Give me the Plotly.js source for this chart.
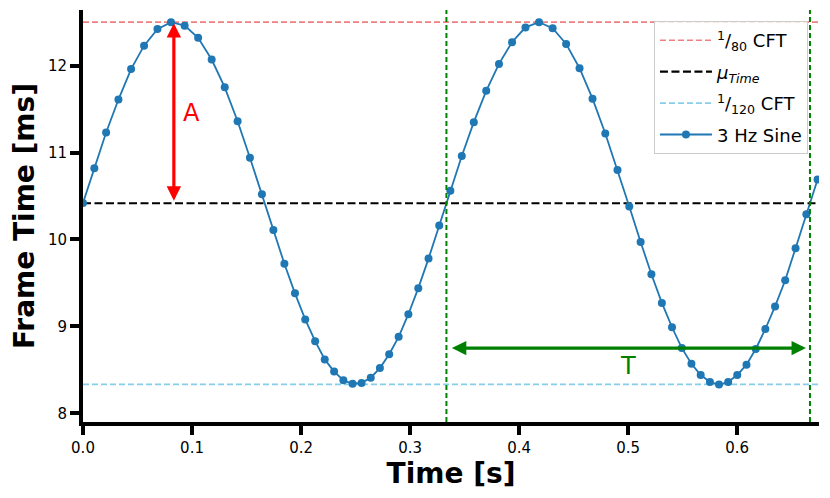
<!DOCTYPE html>
<html>
<head>
<meta charset="utf-8">
<script src="https://cdn.plot.ly/plotly-3.0.1.min.js"></script>
<style>html,body{margin:0;padding:0;background:#fff;}</style>
</head>
<body>
<div id="chart" style="width:830px;height:498px;"></div>
<script>
// Cumulative time of each frame [s]
const times = [
  0.0000,0.0104,0.0212,0.0325,0.0441,0.0560,0.0683,0.0807,0.0932,0.1056,
  0.1180,0.1300,0.1418,0.1531,0.1641,0.1746,0.1847,0.1944,0.2038,0.2129,
  0.2217,0.2303,0.2388,0.2472,0.2555,0.2639,0.2723,0.2808,0.2895,0.2984,
  0.3075,0.3169,0.3267,0.3369,0.3474,0.3584,0.3698,0.3815,0.3935,0.4058,
  0.4182,0.4307,0.4431,0.4554,0.4673,0.4790,0.4902,0.5010,0.5114,0.5213,
  0.5309,0.5402,0.5492,0.5580,0.5665,0.5750,0.5833,0.5917,0.6000,0.6085,
  0.6170,0.6258,0.6347,0.6440,0.6535,0.6634,0.6737
];
// Frame time of each frame [ms]
const frameTimes = [
  10.42,10.82,11.23,11.61,11.96,12.23,12.42,12.50,12.46,12.32,
  12.07,11.75,11.36,10.94,10.52,10.11,9.72,9.38,9.08,8.83,
  8.62,8.48,8.38,8.34,8.35,8.41,8.52,8.68,8.88,9.14,
  9.44,9.78,10.16,10.56,10.96,11.35,11.71,12.02,12.27,12.44,
  12.50,12.43,12.25,11.97,11.62,11.22,10.80,10.38,9.97,9.60,
  9.27,8.99,8.75,8.57,8.44,8.36,8.33,8.36,8.44,8.56,
  8.74,8.97,9.23,9.53,9.90,10.29,10.69
];
// Reference levels [ms]: 1/80 CFT, mean, 1/120 CFT
const levelNames = [
  '<sup>1</sup>/<sub>80</sub> CFT',
  '<i>μ</i><sub><i>Time</i></sub>',
  '<sup>1</sup>/<sub>120</sub> CFT'
];
const levelValues = [12.5, 10.4167, 8.3333];
const sineName = '3 Hz Sine';
// Period markers [s]
const periodMarks = [0.3333, 0.6667];
// Axis ticks
const xTickVals = [0, 0.1, 0.2, 0.3, 0.4, 0.5, 0.6];
const xTickText = ['0.0', '0.1', '0.2', '0.3', '0.4', '0.5', '0.6'];
const yTickVals = [8, 9, 10, 11, 12];
const yTickText = ['8', '9', '10', '11', '12'];
const xRange = [0, 0.675];
const yRange = [7.9, 12.64];

const levelStyles = [
  {color: '#f08080', width: 1.6, dash: '6px,3px'},
  {color: '#000000', width: 2.2, dash: '8px,3.5px'},
  {color: '#87ceeb', width: 1.6, dash: '6px,3px'}
];

const traces = levelValues.map((v, i) => ({
  type: 'scatter', mode: 'lines',
  x: xRange, y: [v, v],
  name: levelNames[i], legendgroup: 'g' + i,
  line: levelStyles[i],
  hoverinfo: 'skip'
}));
traces.push({
  type: 'scatter', mode: 'lines+markers',
  x: times, y: frameTimes,
  name: sineName, legendgroup: 'g3',
  line: {color: '#1f77b4', width: 1.8},
  marker: {color: '#1f77b4', size: 8}
});

const font = 'DejaVu Sans';
const shapes = periodMarks.map(p => ({
  type: 'line', xref: 'x', yref: 'paper', x0: p, x1: p, y0: 0, y1: 1,
  line: {color: '#008000', width: 2, dash: '5px,3px'}, layer: 'above'
}));

const annotations = [
  // amplitude arrow
  {xref: 'x', yref: 'y', axref: 'x', ayref: 'y',
   x: 1/12, y: levelValues[0], ax: 1/12, ay: levelValues[1],
   text: '', showarrow: true, arrowside: 'end+start',
   arrowhead: 2, startarrowhead: 2, arrowsize: 0.9, startarrowsize: 0.9,
   arrowwidth: 3.2, arrowcolor: '#ff0000', standoff: 1, startstandoff: 1},
  {xref: 'x', yref: 'y', x: 0.0996, y: 11.456, text: 'A', showarrow: false,
   font: {family: font, size: 24, color: '#ff0000'}},
  // period arrow
  {xref: 'x', yref: 'y', axref: 'x', ayref: 'y',
   x: periodMarks[1], y: 8.75, ax: periodMarks[0], ay: 8.75,
   text: '', showarrow: true, arrowside: 'end+start',
   arrowhead: 2, startarrowhead: 2, arrowsize: 0.9, startarrowsize: 0.9,
   arrowwidth: 3.2, arrowcolor: '#008000', standoff: 4, startstandoff: 4},
  {xref: 'x', yref: 'y', x: 0.4999, y: 8.543, text: 'T', showarrow: false,
   font: {family: font, size: 24, color: '#008000'}}
];

const axisCommon = {
  showline: true, linewidth: 4, linecolor: '#000',
  ticks: 'outside', ticklen: 9, tickwidth: 4, tickcolor: '#000',
  showgrid: false, zeroline: false, mirror: false,
  tickfont: {family: font, size: 15, color: '#000'}
};

const layout = {
  width: 830, height: 498,
  margin: {l: 83, r: 11, t: 10, b: 76},
  paper_bgcolor: '#fff', plot_bgcolor: '#fff',
  font: {family: font, color: '#000'},
  showlegend: true,
  legend: {
    x: 0.985, xanchor: 'right', y: 0.973, yanchor: 'top',
    bgcolor: 'rgba(255,255,255,0.8)', bordercolor: '#cccccc', borderwidth: 1,
    itemwidth: 52, tracegroupgap: 5,
    font: {family: font, size: 18, color: '#000'}
  },
  xaxis: Object.assign({}, axisCommon, {
    range: xRange, tickvals: xTickVals, ticktext: xTickText,
    title: {text: 'Time [s]', font: {family: font, size: 28, weight: 'bold', color: '#000'}, standoff: 8}
  }),
  yaxis: Object.assign({}, axisCommon, {
    range: yRange, tickvals: yTickVals, ticktext: yTickText,
    title: {text: 'Frame Time [ms]', font: {family: font, size: 28, weight: 'bold', color: '#000'}, standoff: 6}
  }),
  shapes: shapes,
  annotations: annotations
};

Plotly.newPlot('chart', traces, layout, {displayModeBar: false, staticPlot: true});
</script>
</body>
</html>
